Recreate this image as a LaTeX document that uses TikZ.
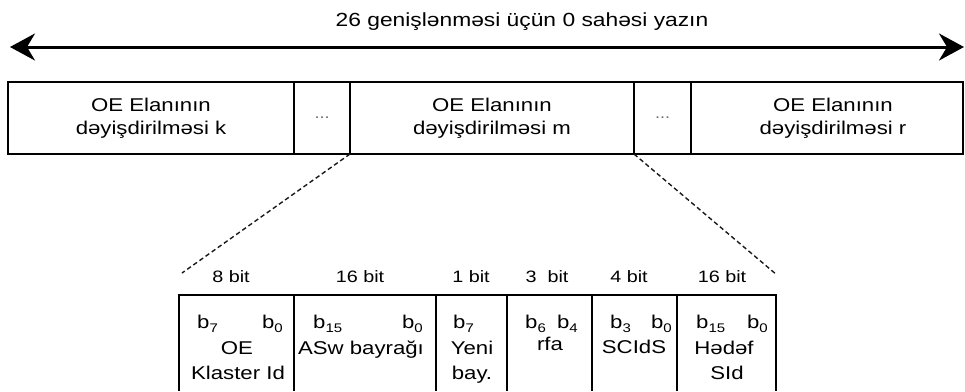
\documentclass[tikz,border=0pt]{standalone}
\usepackage{fontspec}
\setmainfont{Liberation Sans}[FakeStretch=1.2]
\usetikzlibrary{arrows.meta}
\begin{document}
\begin{tikzpicture}[x=1pt,y=-1pt,
  boxline/.style={draw=black, line width=1.5pt},
  topbox/.style={boxline, minimum height=72pt, inner sep=0pt, outer sep=0pt},
  toptext/.style={align=center, inner sep=0pt, font=\fontsize{18.5}{23}\selectfont},
  dotstext/.style={inner sep=0pt, text=black!60, font=\fontsize{15}{15}\selectfont},
  field/.style={minimum height=96pt, inner sep=0pt, outer sep=0pt},
  bitlabel/.style={inner sep=0pt, anchor=base, font=\fontsize{16.5}{18}\selectfont},
  bittxt/.style={inner sep=0pt, font=\fontsize{18.5}{20}\selectfont},
  fieldtxt/.style={inner sep=0pt, anchor=base, font=\fontsize{18.5}{20}\selectfont},
  zoomline/.style={line width=1.4pt, dash pattern=on 4.5pt off 3pt, black!90},
  bigtip/.tip={Stealth[length=25pt, width=27pt, inset=8pt]}
]
\newcommand{\bsub}[1]{b\raisebox{-4pt}{\fontsize{12.5}{12.5}\selectfont #1}}
\useasboundingbox (0,0) rectangle (965,391);

% top arrow
\coordinate (aL) at (10,47);
\coordinate (aR) at (964,47);
\draw[line width=3pt, bigtip-bigtip] (aL) -- (aR);
\node[inner sep=0pt, anchor=base, font=\fontsize{19}{20}\selectfont] (lab) at (522,26) {26 genişlənməsi üçün 0 sahəsi yazın};

% top boxes
\node[topbox, minimum width=286pt] (k) at (151,118) {};
\node[topbox, minimum width=56pt] (d1) at (322,118) {};
\node[topbox, minimum width=284pt] (m) at (492,118) {};
\node[topbox, minimum width=57pt] (d2) at (662.5,118) {};
\node[topbox, minimum width=272pt] (r) at (827,118) {};
\node[toptext] (kt) at (151,118) {OE Elanının\\dəyişdirilməsi k};
\node[toptext] (mt) at (492,118) {OE Elanının\\dəyişdirilməsi m};
\node[toptext] (rt) at (833,118) {OE Elanının\\dəyişdirilməsi r};
\node[dotstext] (d1t) at (d1.center) {...};
\node[dotstext] (d2t) at (d2.center) {...};

% zoom lines
\coordinate (zl) at (182,273);
\coordinate (zr) at (777,275);
\draw[zoomline] (m.south west) -- (zl);
\draw[zoomline] (m.south east) -- (zr);

% bottom fields
\node[field, minimum width=115pt] (f1) at (236.5,343) {};
\node[field, minimum width=142pt] (f2) at (365,343) {};
\node[field, minimum width=71pt] (f3) at (471.5,343) {};
\node[field, minimum width=85pt] (f4) at (549.5,343) {};
\node[field, minimum width=85pt] (f5) at (634.5,343) {};
\node[field, minimum width=99pt] (f6) at (726.5,343) {};
\draw[boxline] (f1.south west) -- (f1.north west) -- (f6.north east) -- (f6.south east);
\foreach \f in {f1,f2,f3,f4,f5}
  \draw[boxline] (\f.north east) -- (\f.south east);

% bit widths
\node[bitlabel] (w1) at (231,282) {8 bit};
\node[bitlabel] (w2) at (360,282) {16 bit};
\node[bitlabel] (w3) at (471,282) {1 bit};
\node[bitlabel] (w4) at (547,282) {3\ \ bit};
\node[bitlabel] (w5) at (629,282) {4 bit};
\node[bitlabel] (w6) at (722,282) {16 bit};

% bit numbers
\node[bittxt, anchor=base west] (b1l) at (197,328) {\bsub{7}};
\node[bittxt, anchor=base east] (b1r) at (283,328) {\bsub{0}};
\node[bittxt, anchor=base west] (b2l) at (313,328) {\bsub{15}};
\node[bittxt, anchor=base east] (b2r) at (423,328) {\bsub{0}};
\node[bittxt, anchor=base west] (b3l) at (453,328) {\bsub{7}};
\node[bittxt, anchor=base west] (b4l) at (525,328) {\bsub{6}};
\node[bittxt, anchor=base east] (b4r) at (578,328) {\bsub{4}};
\node[bittxt, anchor=base west] (b5l) at (610,328) {\bsub{3}};
\node[bittxt, anchor=base east] (b5r) at (672,328) {\bsub{0}};
\node[bittxt, anchor=base west] (b6l) at (696,328) {\bsub{15}};
\node[bittxt, anchor=base east] (b6r) at (768,328) {\bsub{0}};

% field names
\node[fieldtxt] (n1a) at (237,354) {OE};
\node[fieldtxt] (n1b) at (238,379) {Klaster Id};
\node[fieldtxt] (n2a) at (361,354) {ASw bayrağı};
\node[fieldtxt] (n3a) at (472,354) {Yeni};
\node[fieldtxt] (n3b) at (472,379) {bay.};
\node[fieldtxt] (n4a) at (550,350) {rfa};
\node[fieldtxt] (n5a) at (634,353) {SCIdS};
\node[fieldtxt] (n6a) at (724,354) {Hədəf};
\node[fieldtxt] (n6b) at (727,379) {SId};
\end{tikzpicture}
\end{document}
